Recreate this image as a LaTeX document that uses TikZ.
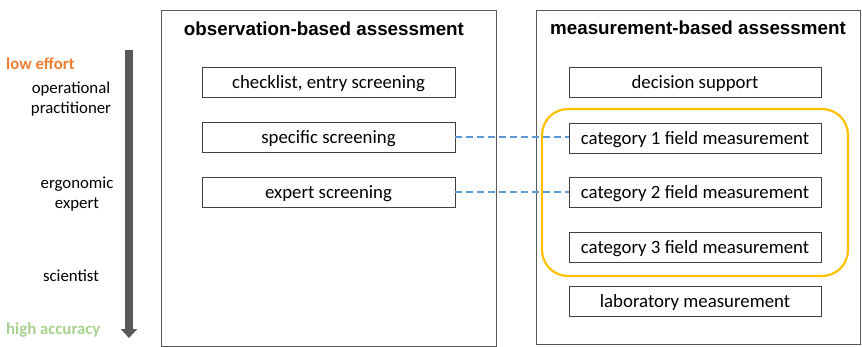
\documentclass[tikz,border=0pt]{standalone}
\usepackage{fontspec}
\setmainfont{Carlito}
\newfontfamily\titlefont{Liberation Sans}
\usetikzlibrary{arrows.meta}
\definecolor{frameg}{HTML}{595959}
\definecolor{boxg}{HTML}{404040}
\definecolor{dashblue}{HTML}{5B9BD5}
\definecolor{goldc}{HTML}{FFC000}
\definecolor{orangec}{HTML}{ED7D31}
\definecolor{greenc}{HTML}{A9D18E}
\definecolor{arrowg}{HTML}{595959}
\tikzset{
  frame/.style={draw=frameg, line width=0.9pt, rectangle},
  itembox/.style={draw=boxg, line width=0.9pt, minimum width=252pt, minimum height=30pt, inner sep=0pt, text height=13pt, text depth=1pt, font=\fontsize{18.8}{22}\selectfont},
  title/.style={font=\titlefont\bfseries\fontsize{18.8}{22}\selectfont, inner sep=0pt},
  side/.style={font=\fontsize{16.8}{19.5}\selectfont, align=center, inner sep=0pt},
  link/.style={draw=dashblue, line width=2.3pt, dash pattern=on 7pt off 4pt},
}
\begin{document}
\begin{tikzpicture}[x=1pt,y=-1pt]
\useasboundingbox (0,0) rectangle (862,346);
% frames
\draw[frame] (161,10) rectangle (496,346);
\draw[frame] (536,10) rectangle (860,344);
\node[title] (t1) at (324,29) {observation-based assessment};
\node[title] (t2) at (698,28) {measurement-based assessment};
% left boxes
\node[itembox, minimum width=253pt] (b1) at (328.5,82) {checklist, entry screening};
\node[itembox, minimum width=253pt] (b2) at (328.5,137) {specific screening};
\node[itembox, minimum width=253pt] (b3) at (328.5,192) {expert screening};
% right boxes
\node[itembox] (r1) at (695,82) {decision support};
\node[itembox] (r2) at (695,138) {category 1 field measurement};
\node[itembox] (r3) at (695,192) {category 2 field measurement};
\node[itembox] (r4) at (695,247) {category 3 field measurement};
\node[itembox] (r5) at (695,301) {laboratory measurement};
% gold group
\draw[goldc, line width=2.2pt, rounded corners=26pt] (542,109) rectangle (848,276);
% dashed links
\draw[link] (b2.east) -- (b2.east -| r2.west);
\draw[link] (b3.east) -- (r3.west);
% arrow
\coordinate (atop) at (129,50);
\coordinate (abot) at (129,338);
\draw[arrowg, line width=8pt, -{Triangle[width=16pt,length=9pt]}] (atop) -- (abot);
% side labels
\node[font=\bfseries\fontsize{16.8}{19}\selectfont, text=orangec, anchor=west, inner sep=0pt] (le) at (6,64) {low effort};
\node[side] (op) at (71,99) {operational\\practitioner};
\node[side] (ee) at (77,194) {ergonomic\\expert};
\node[side] (sc) at (71,276) {scientist};
\node[font=\bfseries\fontsize{16.8}{19}\selectfont, text=greenc, anchor=west, inner sep=0pt] (ha) at (6,330) {high accuracy};
\end{tikzpicture}
\end{document}
